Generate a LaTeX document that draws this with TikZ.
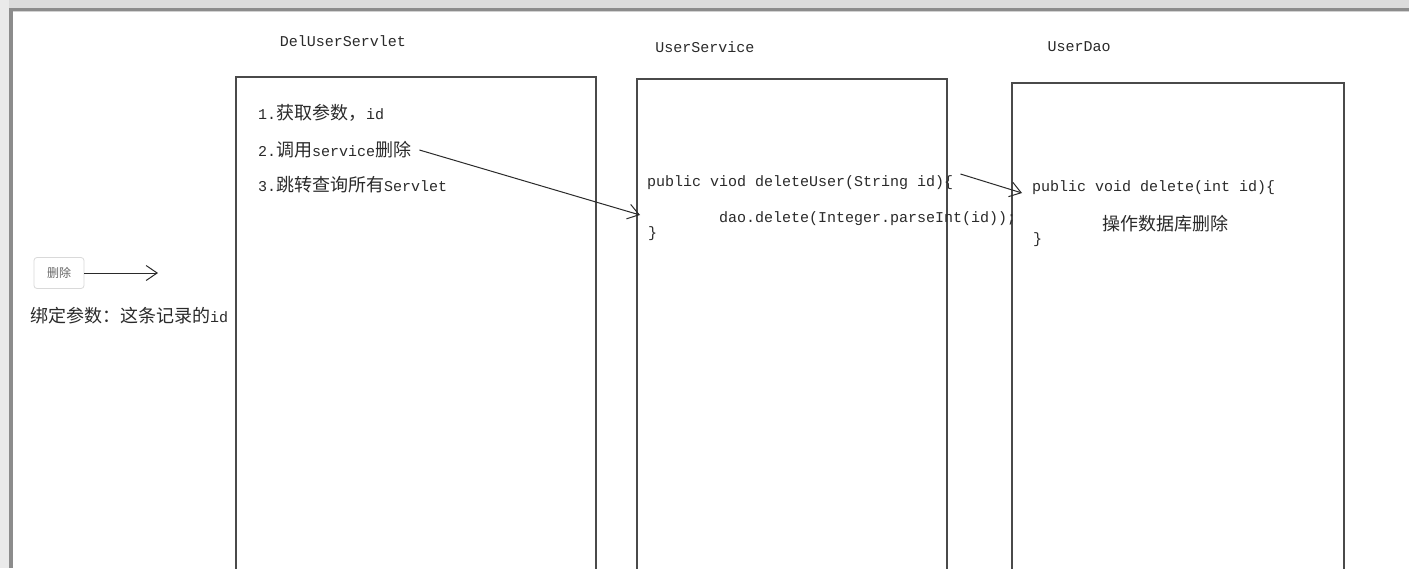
\documentclass[tikz,border=0pt]{standalone}
\usepackage{fontspec}
\newfontfamily\cjk{Noto Sans CJK SC}
\newfontfamily\lat{Liberation Mono}
\newcommand{\zh}[1]{{\cjk\fontsize{18}{20}\selectfont #1}}
\usetikzlibrary{arrows.meta}
\definecolor{ink}{HTML}{2A2A2A}
\definecolor{boxline}{HTML}{4A4A4A}
\definecolor{framegray}{HTML}{DCDCDC}
\tikzset{
  x=1pt, y=-1pt,
  txt/.style={font=\lat\fontsize{15}{18}\selectfont, text=ink, inner sep=0pt, anchor=west},
  classbox/.style={draw=boxline, line width=1.8pt, anchor=north west, inner sep=0pt},
  conn/.style={draw=ink, line width=1pt, -{Straight Barb[length=11pt,width=15pt,line width=1pt]}},
}
\begin{document}
\begin{tikzpicture}
\useasboundingbox (0,0) rectangle (1409,568);
\clip (0,0) rectangle (1409,568);
% window frame
\fill[white] (0,0) rectangle (1409,568);
\fill[framegray] (0,0) rectangle (1409,8);
\fill[framegray!60] (0,0) rectangle (9,568);
\fill[gray!90] (9,8) rectangle (1409,11);
\fill[gray!90] (9,8) rectangle (13,568);
\fill[gray!35] (13,11) rectangle (1409,12);

% titles
\node[txt, anchor=center] (t1) at (343,41) {DelUserServlet};
\node[txt, anchor=center] (t2) at (705,47) {UserService};
\node[txt, anchor=center] (t3) at (1079,47) {UserDao};

% boxes
\node[classbox, minimum width=360pt, minimum height=520pt] (b1) at (235,76) {};
\node[classbox, minimum width=310pt, minimum height=520pt] (b2) at (636,78) {};
\node[classbox, minimum width=332pt, minimum height=520pt] (b3) at (1011,82) {};

% servlet steps
\node[txt] (s1) at (258,113) {1.\zh{获取参数，}id};
\node[txt] (s2) at (258,150) {2.\zh{调用}service\zh{删除}};
\node[txt] (s3) at (258,185) {3.\zh{跳转查询所有}Servlet};

% service code
\node[txt] (c1) at (647,183) {public viod deleteUser(String id)\{};
\node[txt] (c2) at (719,219) {dao.delete(Integer.parseInt(id));};
\node[txt] (c3) at (648,234) {\}};

% dao code
\node[txt] (d1) at (1032,188) {public void delete(int id)\{};
\node[txt, anchor=center] (d2) at (1165,224) {\zh{操作数据库删除}};
\node[txt] (d3) at (1033,240) {\}};

% button
\node[draw=gray!30, fill=white, rounded corners=3pt, line width=0.8pt,
      minimum width=50pt, minimum height=31pt, inner sep=0pt,
      font=\cjk\fontsize{12}{14}\selectfont, text=gray!80!black] (btn) at (59,273) {删除};
\node[txt] (bind) at (30,316) {\zh{绑定参数：这条记录的}id};

% connectors
\coordinate (btnEnd) at (158,273);
\coordinate (svcIn) at (640,215);
\draw[conn] (btn.east) -- (btnEnd);
\draw[conn] ([xshift=8pt]s2.east) -- (svcIn);
\draw[conn] ([xshift=7pt,yshift=9pt]c1.east) -- ([xshift=-10pt,yshift=-5pt]d1.west);
\end{tikzpicture}
\end{document}
